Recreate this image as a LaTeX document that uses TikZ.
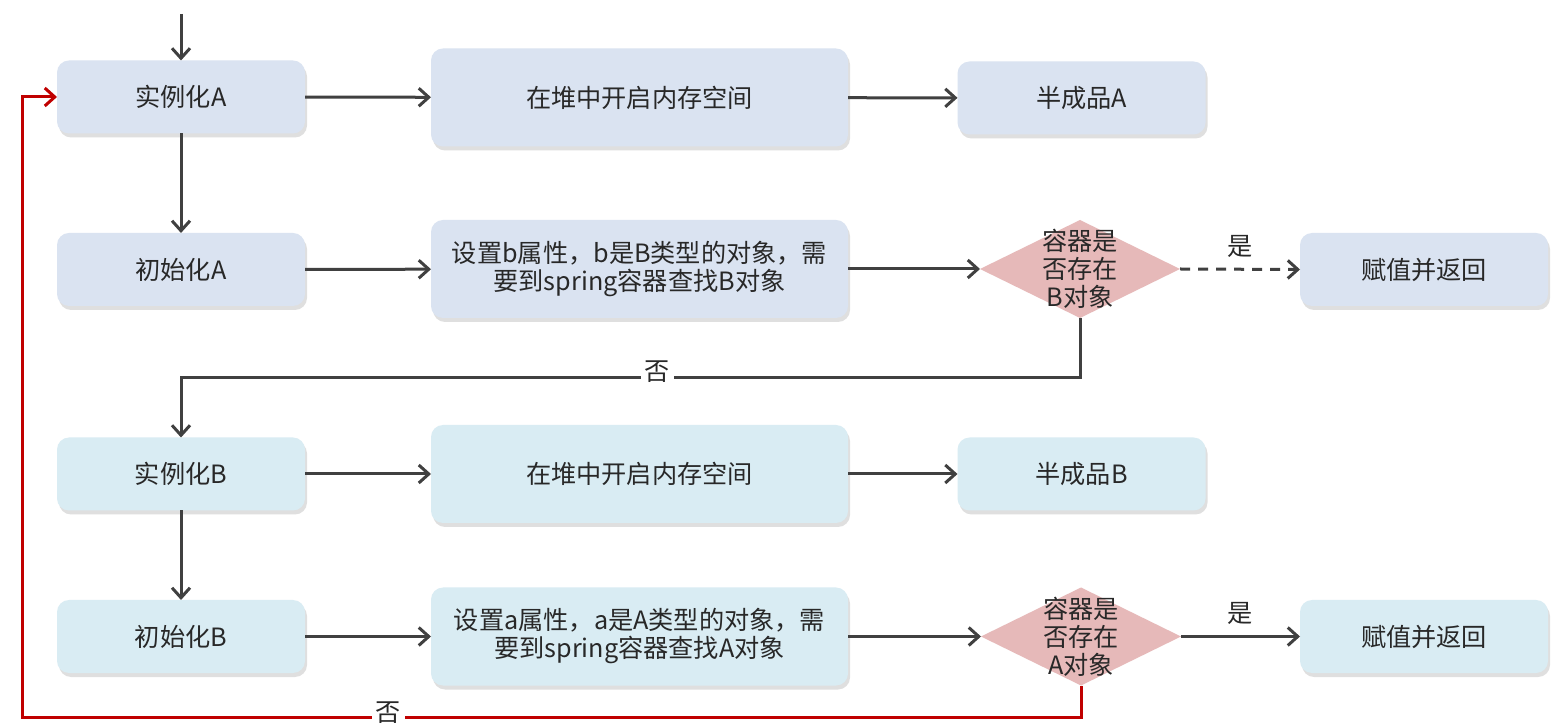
\documentclass[tikz,border=0pt]{standalone}
\usepackage{fontspec}
\setmainfont{Noto Sans CJK SC}
\usetikzlibrary{arrows.meta,shapes.geometric,shadows,positioning}
\definecolor{boxa}{RGB}{218,227,241}
\definecolor{boxb}{RGB}{217,236,243}
\definecolor{decfill}{RGB}{230,185,185}
\definecolor{lineg}{RGB}{64,64,64}
\definecolor{loopred}{RGB}{192,0,0}
\definecolor{txt}{RGB}{40,40,40}
\tikzstyle{box}=[%
	rounded corners=6pt,
	inner sep=0pt,
	outer sep=0pt,
	align=center,
	text=txt,
	drop shadow={opacity=0.25,shadow xshift=1pt,shadow yshift=-2pt},
	]
\tikzstyle{smallbox}=[box, minimum width=124pt, minimum height=36.5pt]
\tikzstyle{widebox}=[box, minimum width=208.5pt, minimum height=49pt]
\tikzstyle{decision}=[diamond, fill=decfill, inner sep=0pt, outer sep=0pt, minimum width=100pt, minimum height=49pt]
\tikzstyle{dtext}=[align=center, text=txt, inner sep=0pt]
\tikzstyle{flow}=[draw=lineg, line width=1.5pt, ->]
\tikzstyle{loopflow}=[draw=loopred, line width=1.5pt, ->]
\tikzstyle{cond}=[text=txt, inner sep=2pt]

\begin{document}
\begin{tikzpicture}[x=0.5pt,y=-0.5pt,font=\fontsize{12.6}{14}\selectfont,
  >={Straight Barb[length=5pt,width=9pt]}]
  \useasboundingbox[fill=white] (0,0) rectangle (1563,726);

  % object A
  \node[smallbox,fill=boxa] (ia) at (181,97) {实例化A};
  \node[widebox,fill=boxa] (ha) at (639.5,97.5) {在堆中开启内存空间};
  \node[smallbox,fill=boxa] (ba) at (1081.5,98) {半成品A};

  \node[smallbox,fill=boxa] (ca) at (181,269.5) {初始化A};
  \node[widebox,fill=boxa] (sa) at (639.5,269) {设置b属性，b是B类型的对象，需\\要到spring容器查找B对象};
  \node[decision] (qa) at (1080,269) {};
  \node[dtext] at (qa) {容器是\\否存在\\B对象};
  \node[smallbox,fill=boxa] (ra) at (1424,269.5) {赋值并返回};

  % object B
  \node[smallbox,fill=boxb] (ib) at (181,474) {实例化B};
  \node[widebox,fill=boxb] (hb) at (639.5,474) {在堆中开启内存空间};
  \node[smallbox,fill=boxb] (bb) at (1081.5,474) {半成品B};

  \node[smallbox,fill=boxb] (cb) at (181,636.5) {初始化B};
  \node[widebox,fill=boxb] (sb) at (639.5,636.5) {设置a属性，a是A类型的对象，需\\要到spring容器查找A对象};
  \node[decision] (qb) at (1081,636.5) {};
  \node[dtext] at (qb) {容器是\\否存在\\A对象};
  \node[smallbox,fill=boxb] (rb) at (1424,636.5) {赋值并返回};

  \coordinate (start) at (181,14);
  \coordinate (loop) at (22,717);

  \draw[flow] (start) -- (ia);
  \draw[flow] (ia) -- (ha);
  \draw[flow] (ha) -- (ba);
  \draw[flow] (ia) -- (ca);
  \draw[flow] (ca) -- (sa);
  \draw[flow] (sa) -- (qa);
  \draw[flow,dashed,dash pattern=on 5pt off 4pt] (qa.east) -- node[cond,above=3pt]{是} (ra.west);
  \draw[flow] (qa.south) -- ++(0,60) -| node[pos=0.235,cond,fill=white,yshift=3pt]{否} (ib.north);

  \draw[flow] (ib) -- (hb);
  \draw[flow] (hb) -- (bb);
  \draw[flow] (ib) -- (cb);
  \draw[flow] (cb) -- (sb);
  \draw[flow] (sb) -- (qb);
  \draw[flow] (qb.east) -- node[cond,above=3pt]{是} (rb.west);
  \draw[loopflow] (qb.south) |- node[pos=0.827,cond,fill=white,yshift=2pt]{否} (loop) |- (ia.west);
\end{tikzpicture}
\end{document}
